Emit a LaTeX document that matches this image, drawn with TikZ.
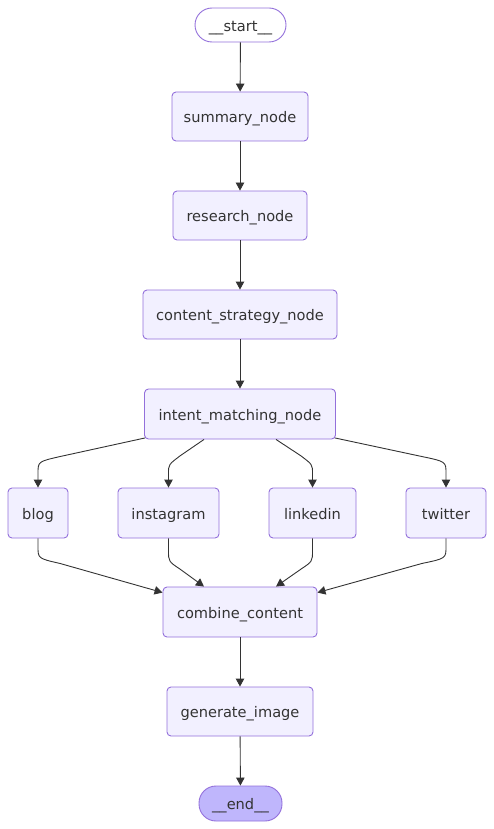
\documentclass[tikz,border=0pt]{standalone}
\usepackage{fontspec}
\setmainfont{DejaVu Sans}
\usetikzlibrary{arrows.meta,calc}
\definecolor{nodefill}{HTML}{F2F0FF}
\definecolor{nodeline}{HTML}{9370DB}
\definecolor{endfill}{HTML}{BFB6FC}
\definecolor{txt}{HTML}{333333}
\definecolor{edge}{HTML}{333333}
\tikzset{
  lbl/.style={text=txt, font=\fontsize{14.6}{16}\selectfont, text height=12.5pt, text depth=0pt},
  box/.style={lbl, draw=nodeline, fill=nodefill, line width=0.9pt, rounded corners=4pt,
    inner sep=0pt},
  term/.style={lbl, draw=nodeline, line width=0.9pt, rounded corners=17pt,
    inner sep=0pt, minimum height=34pt},
  conn/.style={draw=edge, line width=0.9pt, -{Triangle[length=8pt,width=8.5pt]}},
}
\begin{document}
\begin{tikzpicture}[x=1pt,y=-1pt]
\useasboundingbox (0,0) rectangle (494,829);
\node[term, fill=white, minimum width=91pt] (start) at (240.5,25) {\_\_start\_\_};
\node[box, minimum width=136pt, minimum height=49pt] (summary) at (240,116.5) {summary\_node};
\node[box, minimum width=134pt, minimum height=49pt] (research) at (240,215.5) {research\_node};
\node[box, minimum width=194pt, minimum height=49pt] (strategy) at (240,314.5) {content\_strategy\_node};
\node[box, minimum width=191pt, minimum height=50pt] (intent) at (240,414) {intent\_matching\_node};
\node[box, minimum width=60pt, minimum height=50pt] (blog) at (38,513) {blog};
\node[box, minimum width=101pt, minimum height=50pt] (insta) at (168.5,513) {instagram};
\node[box, minimum width=87pt, minimum height=50pt] (linked) at (312.5,513) {linkedin};
\node[box, minimum width=80pt, minimum height=50pt] (twitter) at (446,513) {twitter};
\node[box, minimum width=154pt, minimum height=50pt] (combine) at (240,612) {combine\_content};
\node[box, minimum width=146pt, minimum height=49pt] (generate) at (240,711.5) {generate\_image};
\node[term, fill=endfill, minimum width=83pt, minimum height=35pt] (end) at (240.5,803.5) {\_\_end\_\_};

\draw[conn] (start) -- (summary);
\draw[conn] (summary) -- (research);
\draw[conn] (research) -- (strategy);
\draw[conn] (strategy) -- (intent);
\draw[conn] (combine) -- (generate);
\draw[conn] (generate) -- (end);

% fan out
\draw[conn] ($(intent.south west)+(1,-1.5)$) -- ($(blog.north)+(22,-31)$)
  .. controls ($(blog.north)+(0,-26)$) .. ($(blog.north)+(0,-14)$) -- (blog.north);
\draw[conn] ($(intent.south)+(-36,0)$) -- ($(insta.north)+(12,-32)$)
  .. controls ($(insta.north)+(0,-23)$) .. ($(insta.north)+(0,-14)$) -- (insta.north);
\draw[conn] ($(intent.south)+(36,0)$) -- ($(linked.north)+(-12,-32)$)
  .. controls ($(linked.north)+(0,-23)$) .. ($(linked.north)+(0,-14)$) -- (linked.north);
\draw[conn] ($(intent.south east)+(-1,-1.5)$) -- ($(twitter.north)+(-24,-31)$)
  .. controls ($(twitter.north)+(0,-26)$) .. ($(twitter.north)+(0,-14)$) -- (twitter.north);

% fan in
\draw[conn] (blog.south) -- ($(blog.south)+(0,8)$)
  .. controls ($(blog.south)+(0,20)$) .. ($(blog.south)+(22,25)$) -- ($(combine.north west)+(0,6)$);
\draw[conn] (insta.south) -- ($(insta.south)+(0,12)$)
  .. controls ($(insta.south)+(0,23)$) .. ($(insta.south)+(12,31)$) -- ($(combine.north)+(-36,0)$);
\draw[conn] (linked.south) -- ($(linked.south)+(0,12)$)
  .. controls ($(linked.south)+(0,23)$) .. ($(linked.south)+(-12,31)$) -- ($(combine.north)+(36,0)$);
\draw[conn] (twitter.south) -- ($(twitter.south)+(0,8)$)
  .. controls ($(twitter.south)+(0,20)$) .. ($(twitter.south)+(-24,25)$) -- ($(combine.north east)+(0,6)$);
\end{tikzpicture}
\end{document}
